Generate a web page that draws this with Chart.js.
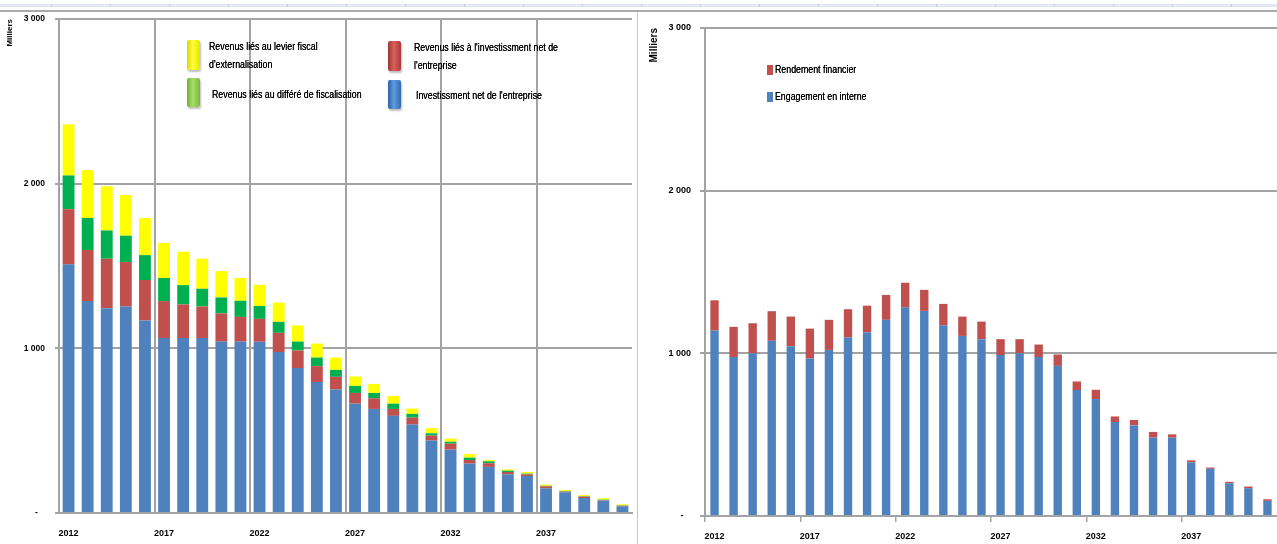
<!DOCTYPE html>
<html>
<head>
<meta charset="utf-8">
<script src="https://cdn.jsdelivr.net/npm/chart.js@4.4.0/dist/chart.umd.min.js"></script>
<style>
  html, body { margin: 0; padding: 0; background: #fff; width: 1277px; height: 544px; overflow: hidden;
               font-family: "Liberation Sans", Arial, sans-serif; }
  .abs { position: absolute; }
  .sheet-band { top: 4px; left: 0; width: 1277px; height: 3px; background-color: #e3e9f2;
                background-image: repeating-linear-gradient(90deg, transparent 0 58px, #c3ccd9 58px 59px);
                background-position: -7px 0; }
  .sheet-line { top: 10px; left: 0; width: 1277px; height: 2px; background: #a9a9a9; }
  .sep { top: 12px; left: 637px; width: 1px; height: 532px; background: #c8c8c8; }
  .lg { position: absolute; font-size: 10px; color: #000; white-space: nowrap; line-height: 18px;
        transform-origin: 0 0; transform: scaleX(0.88); text-shadow: 0 0 0.4px #000; }
  .mk { position: absolute; width: 13px; border-radius: 2px; box-shadow: 1px 2px 2px rgba(0,0,0,0.25); }
  .sq { position: absolute; width: 6px; height: 10px; }
</style>
</head>
<body>
<div class="abs sheet-band"></div>
<div class="abs sheet-line"></div>
<div class="abs sep"></div>

<div class="abs" style="left:0;top:0;width:640px;height:544px;">
  <canvas id="left" width="640" height="544"></canvas>
</div>
<div class="abs" style="left:640px;top:0;width:637px;height:544px;">
  <canvas id="right" width="637" height="544"></canvas>
</div>

<!-- legend, left chart -->
<div class="mk" style="left:187px;top:40px;height:30px;background:linear-gradient(90deg,#d9d900,#ffff3a 45%,#e6e600);"></div>
<div class="lg" style="left:209px;top:38px;">Revenus liés au levier fiscal<br>d'externalisation</div>
<div class="mk" style="left:388px;top:41px;height:30px;background:linear-gradient(90deg,#9e3431,#d9625e 45%,#a83a37);"></div>
<div class="lg" style="left:414px;top:39px;">Revenus liés à l'investissment net de<br>l'entreprise</div>
<div class="mk" style="left:187px;top:78px;height:29px;background:linear-gradient(90deg,#6eae36,#a6e06a 45%,#78b83c);"></div>
<div class="lg" style="left:212px;top:86px;">Revenus liés au différé de fiscalisation</div>
<div class="mk" style="left:388px;top:80px;height:29px;background:linear-gradient(90deg,#2f62a8,#5f9be0 45%,#3569b0);"></div>
<div class="lg" style="left:416px;top:87px;">Investissment net de l'entreprise</div>

<!-- legend, right chart -->
<div class="sq" style="left:767px;top:65px;background:#c0504d;"></div>
<div class="lg" style="left:775px;top:61px;">Rendement financier</div>
<div class="sq" style="left:767px;top:92px;background:#4f81bd;"></div>
<div class="lg" style="left:775px;top:88px;">Engagement en interne</div>

<script>
// Years on the horizontal axis
const years = ['2012','2013','2014','2015','2016','2017','2018','2019','2020','2021',
               '2022','2023','2024','2025','2026','2027','2028','2029','2030','2031',
               '2032','2033','2034','2035','2036','2037','2038','2039','2040','2041'];

// Left chart (milliers)
const investNet  = [1510,1287,1244,1254,1169,1062,1062,1062,1041,1041,1040,977,880,795,750,664,632,590,537,440,385,300,280,235,225,150,126,91,75,41];
const revInvest  = [335,310,300,270,246,225,205,192,171,150,139,117,107,97,77,65,65,42,42,30,36,22,22,14,10,12,4,8,3,3];
const revDiffere = [205,195,172,160,151,140,117,108,97,98,78,67,54,52,42,43,32,32,23,14,12,14,12,8,4,3,3,3,3,2];
const revLevier  = [310,290,268,247,225,213,203,182,160,138,129,117,98,85,75,57,55,47,32,31,19,21,8,8,10,7,7,7,8,7];

// Right chart (milliers)
const engagement = [1140,977,1001,1077,1044,968,1021,1097,1130,1206,1281,1261,1173,1107,1087,989,1001,977,923,774,719,578,557,482,482,330,290,201,171,93];
const rendement  = [186,186,184,182,182,184,185,174,163,153,153,129,131,119,108,98,86,77,70,53,57,34,33,35,20,12,8,9,10,10];

// Vertical axis labels
const yTicks = ['-   ', '1 000', '2 000', '3 000'];

const FONT = '"Liberation Sans", Arial, sans-serif';
const GRID = '#a3a3a3';
const BLUE = '#4f81bd', RED = '#c0504d', GREEN = '#00b050', YELLOW = '#ffff00';

const every5 = (ctx) => (ctx.index % 5 === 0 ? GRID : 'rgba(0,0,0,0)');
const xLabel = (v, i) => (i % 5 === 0 ? years[i] : '');

new Chart(document.getElementById('left'), {
  type: 'bar',
  data: {
    labels: years,
    datasets: [
      { label: "Investissment net de l'entreprise", data: investNet, backgroundColor: BLUE },
      { label: "Revenus liés à l'investissment net de l'entreprise", data: revInvest, backgroundColor: RED },
      { label: 'Revenus liés au différé de fiscalisation', data: revDiffere, backgroundColor: GREEN },
      { label: "Revenus liés au levier fiscal d'externalisation", data: revLevier, backgroundColor: YELLOW }
    ]
  },
  options: {
    responsive: false,
    animation: false,
    layout: { padding: { top: 19, right: 8, left: 0, bottom: 0 } },
    datasets: { bar: { barPercentage: 0.62, categoryPercentage: 1 } },
    plugins: { legend: { display: false }, tooltip: { enabled: false } },
    scales: {
      x: {
        stacked: true,
        offset: true,
        grid: { offset: true, color: every5, lineWidth: 2, drawTicks: false },
        border: { color: GRID, width: 2 },
        ticks: { autoSkip: false, maxRotation: 0, padding: 15, color: '#000',
                 font: { family: FONT, size: 9, weight: 'bold' }, callback: xLabel },
        afterFit: (s) => { s.height = 31; }
      },
      y: {
        stacked: true,
        min: 0, max: 3000,
        grid: { color: GRID, lineWidth: 2, tickLength: 4 },
        border: { color: GRID, width: 2 },
        ticks: { stepSize: 1000, padding: 10, color: '#000',
                 font: { family: FONT, size: 8.5, weight: 'bold' }, callback: (v, i) => yTicks[i] },
        title: { display: true, text: 'Milliers', align: 'end', color: '#000',
                 font: { family: FONT, size: 8, weight: 'bold' }, padding: { top: 5, bottom: 0 } },
        afterFit: (s) => { s.width = 59; }
      }
    }
  }
});

new Chart(document.getElementById('right'), {
  type: 'bar',
  data: {
    labels: years,
    datasets: [
      { label: 'Engagement en interne', data: engagement, backgroundColor: BLUE },
      { label: 'Rendement financier', data: rendement, backgroundColor: RED }
    ]
  },
  options: {
    responsive: false,
    animation: false,
    layout: { padding: { top: 28, right: 0, left: 0, bottom: 0 } },
    datasets: { bar: { barPercentage: 0.44, categoryPercentage: 1 } },
    plugins: { legend: { display: false }, tooltip: { enabled: false } },
    scales: {
      x: {
        stacked: true,
        offset: true,
        grid: { offset: true, color: every5, lineWidth: 1.5, drawOnChartArea: false, tickLength: 6 },
        border: { color: GRID, width: 2 },
        ticks: { autoSkip: false, maxRotation: 0, padding: 9, color: '#000',
                 font: { family: FONT, size: 9, weight: 'bold' }, callback: xLabel },
        afterFit: (s) => { s.height = 28; }
      },
      y: {
        stacked: true,
        min: 0, max: 3000,
        grid: { color: GRID, lineWidth: 2, tickLength: 5 },
        border: { color: GRID, width: 2 },
        ticks: { stepSize: 1000, padding: 9, color: '#000',
                 font: { family: FONT, size: 9, weight: 'bold' }, callback: (v, i) => yTicks[i] },
        title: { display: true, text: 'Milliers', align: 'end', color: '#000',
                 font: { family: FONT, size: 10, weight: 'bold' }, padding: { top: 8, bottom: 0 } },
        afterFit: (s) => { s.width = 65; }
      }
    }
  }
});
</script>
</body>
</html>
